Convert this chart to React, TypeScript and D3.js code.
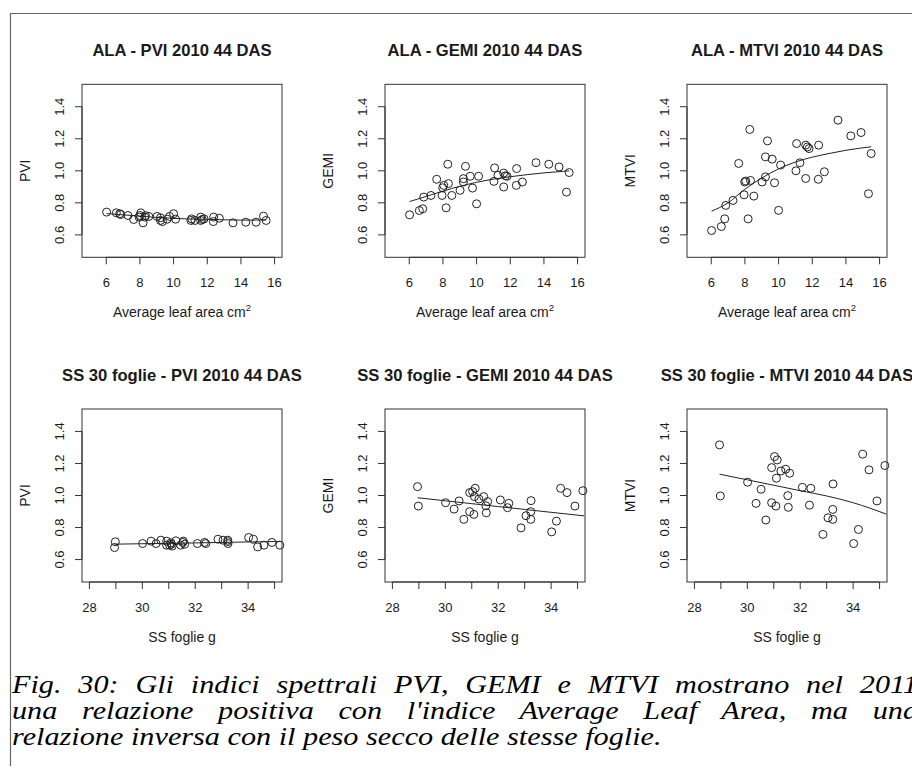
import React, { useEffect, useRef } from "react";
import * as d3 from "d3";

// ---------- DATA ----------
// Average leaf area (cm^2), 44 DAS 2010
const alaLeafArea = [6.02, 6.6, 6.8, 6.86, 7.29, 7.63, 7.95, 7.99, 8.05, 8.19, 8.29, 8.33, 8.53, 9.02, 9.22, 9.22, 9.34, 9.62, 9.76, 10.0, 10.12, 11.03, 11.07, 11.27, 11.61, 11.61, 11.71, 11.81, 12.36, 12.38, 12.72, 13.53, 14.29, 14.9, 15.34, 15.5];
const alaPVI = [0.742, 0.738, 0.732, 0.727, 0.721, 0.696, 0.711, 0.721, 0.738, 0.675, 0.711, 0.72, 0.715, 0.715, 0.707, 0.69, 0.683, 0.698, 0.715, 0.732, 0.698, 0.69, 0.7, 0.69, 0.711, 0.69, 0.696, 0.7, 0.683, 0.711, 0.704, 0.675, 0.679, 0.679, 0.717, 0.69];
const alaGEMI = [0.725, 0.752, 0.763, 0.836, 0.846, 0.947, 0.846, 0.894, 0.909, 0.769, 1.041, 0.92, 0.846, 0.878, 0.93, 0.951, 1.028, 0.966, 0.892, 0.794, 0.966, 0.934, 1.018, 0.972, 0.899, 0.986, 0.969, 0.966, 0.909, 1.014, 0.93, 1.051, 1.041, 1.024, 0.867, 0.989];
const alaMTVI = [0.627, 0.652, 0.7, 0.784, 0.815, 1.046, 0.85, 0.93, 0.936, 0.7, 1.258, 0.94, 0.842, 0.93, 1.087, 0.962, 1.187, 1.073, 0.925, 0.753, 1.036, 1.0, 1.17, 1.05, 0.952, 1.16, 1.149, 1.139, 0.947, 1.16, 0.994, 1.316, 1.218, 1.239, 0.857, 1.108];

// Dry weight of 30 leaves (g)
const ssFoglie = [28.95, 28.98, 30.01, 30.33, 30.52, 30.7, 30.92, 30.92, 31.03, 31.08, 31.1, 31.13, 31.27, 31.45, 31.53, 31.55, 31.6, 32.08, 32.35, 32.4, 32.86, 33.05, 33.23, 33.23, 33.24, 34.02, 34.2, 34.36, 34.6, 34.9, 35.2];
const ssPVI = [0.675, 0.711, 0.7, 0.715, 0.7, 0.721, 0.69, 0.715, 0.69, 0.704, 0.696, 0.684, 0.717, 0.69, 0.707, 0.715, 0.696, 0.7, 0.707, 0.7, 0.727, 0.721, 0.721, 0.712, 0.7, 0.738, 0.727, 0.679, 0.69, 0.707, 0.69];
const ssGEMI = [1.055, 0.934, 0.955, 0.915, 0.966, 0.851, 1.018, 0.899, 1.024, 0.882, 0.993, 1.045, 0.978, 0.993, 0.936, 0.892, 0.962, 0.972, 0.924, 0.951, 0.798, 0.874, 0.851, 0.899, 0.968, 0.773, 0.84, 1.045, 1.018, 0.934, 1.03];
const ssMTVI = [1.316, 0.997, 1.083, 0.951, 1.039, 0.847, 1.174, 0.955, 1.243, 0.934, 1.108, 1.222, 1.153, 1.164, 0.999, 0.926, 1.139, 1.051, 0.94, 1.045, 0.757, 0.861, 0.851, 0.913, 1.072, 0.7, 0.788, 1.258, 1.16, 0.966, 1.187];

// Smoothed fit curves
const fitAlaX = [6.02, 7, 8, 9, 10, 11, 12, 13, 14, 15.5];
const fitAlaPVI = [0.733, 0.725, 0.717, 0.709, 0.703, 0.699, 0.697, 0.694, 0.692, 0.693];
const fitAlaGEMI = [0.808, 0.84, 0.873, 0.903, 0.928, 0.948, 0.963, 0.976, 0.987, 1.0];
const fitAlaMTVI = [0.748, 0.8, 0.885, 0.955, 1.012, 1.055, 1.085, 1.108, 1.128, 1.15];
const fitSsX = [28.95, 30, 31, 32, 33, 34, 35.25];
const fitSsPVI = [0.696, 0.699, 0.701, 0.704, 0.707, 0.71, 0.713];
const fitSsGEMI = [0.986, 0.967, 0.949, 0.931, 0.913, 0.895, 0.873];
const fitSsMTVI = [1.133, 1.098, 1.064, 1.03, 0.997, 0.955, 0.884];

// Axes
const yTicks = [0.6, 0.8, 1.0, 1.2, 1.4];
const yDomain = [0.46, 1.54];
const alaDomain = [4.56, 16.44];
const alaTicks = [6, 8, 10, 12, 14, 16];
const ssDomain = [27.72, 35.28];
const ssTicks = [28, 29, 30, 31, 32, 33, 34, 35];
const ssTickLabels = ["28", "", "30", "", "32", "", "34", ""];

const panelTitles = [
  "ALA - PVI 2010 44 DAS",
  "ALA - GEMI 2010 44 DAS",
  "ALA - MTVI 2010 44 DAS",
  "SS 30 foglie - PVI 2010 44 DAS",
  "SS 30 foglie - GEMI 2010 44 DAS",
  "SS 30 foglie - MTVI 2010 44 DAS",
];
const yLabels = ["PVI", "GEMI", "MTVI", "PVI", "GEMI", "MTVI"];
const xLabelAla = "Average leaf area cm";
const xLabelSs = "SS foglie g";

const captionLines = [
  "Fig. 30: Gli indici spettrali PVI, GEMI e MTVI mostrano nel 2011",
  "una relazione positiva con l'indice Average Leaf Area, ma una",
  "relazione inversa con il peso secco delle stesse foglie.",
];

// ---------- LAYOUT ----------
const W = 912;
const H = 774;
const colX = [82, 385, 687];
const rowY = [84.3, 409];
const boxW = 200;
const boxH = 173;
const FONT = "'Liberation Sans', Arial, Helvetica, sans-serif";
const INK = "#1a1a1a";
const CAP_LEFT = 12;
const CAP_RIGHT = 918; // justified right edge (beyond the crop)
const CAP_LAST_END = 662; // end of the short last line
const CAP_FONT = 26;

type PanelDef = {
  title: string;
  ylab: string;
  xs: number[];
  ys: number[];
  fx: number[];
  fy: number[];
  domain: number[];
  ticks: number[];
  tickLabels: string[];
  xlab: string;
  sup: boolean;
  col: number;
  row: number;
};

const panels: PanelDef[] = [
  { title: panelTitles[0], ylab: yLabels[0], xs: alaLeafArea, ys: alaPVI, fx: fitAlaX, fy: fitAlaPVI, domain: alaDomain, ticks: alaTicks, tickLabels: alaTicks.map(String), xlab: xLabelAla, sup: true, col: 0, row: 0 },
  { title: panelTitles[1], ylab: yLabels[1], xs: alaLeafArea, ys: alaGEMI, fx: fitAlaX, fy: fitAlaGEMI, domain: alaDomain, ticks: alaTicks, tickLabels: alaTicks.map(String), xlab: xLabelAla, sup: true, col: 1, row: 0 },
  { title: panelTitles[2], ylab: yLabels[2], xs: alaLeafArea, ys: alaMTVI, fx: fitAlaX, fy: fitAlaMTVI, domain: alaDomain, ticks: alaTicks, tickLabels: alaTicks.map(String), xlab: xLabelAla, sup: true, col: 2, row: 0 },
  { title: panelTitles[3], ylab: yLabels[3], xs: ssFoglie, ys: ssPVI, fx: fitSsX, fy: fitSsPVI, domain: ssDomain, ticks: ssTicks, tickLabels: ssTickLabels, xlab: xLabelSs, sup: false, col: 0, row: 1 },
  { title: panelTitles[4], ylab: yLabels[4], xs: ssFoglie, ys: ssGEMI, fx: fitSsX, fy: fitSsGEMI, domain: ssDomain, ticks: ssTicks, tickLabels: ssTickLabels, xlab: xLabelSs, sup: false, col: 1, row: 1 },
  { title: panelTitles[5], ylab: yLabels[5], xs: ssFoglie, ys: ssMTVI, fx: fitSsX, fy: fitSsMTVI, domain: ssDomain, ticks: ssTicks, tickLabels: ssTickLabels, xlab: xLabelSs, sup: false, col: 2, row: 1 },
];

function Panel({ p }: { p: PanelDef }) {
  const x0 = colX[p.col];
  const y0 = rowY[p.row];
  const x = d3.scaleLinear().domain(p.domain).range([x0, x0 + boxW]);
  const y = d3.scaleLinear().domain(yDomain).range([y0 + boxH, y0]);
  const line = d3
    .line<number>()
    .x((_, i) => x(p.fx[i]))
    .y((d) => y(d))
    .curve(d3.curveMonotoneX);
  const bottom = y0 + boxH;
  const cx = x0 + boxW / 2;
  const cy = y0 + boxH / 2;
  const tickLen = 7;
  return (
    <g fontFamily={FONT} fill={INK}>
      <text x={cx} y={y0 - 28.5} textAnchor="middle" fontWeight="bold" fontSize={16.6}>
        {p.title}
      </text>
      <rect x={x0} y={y0} width={boxW} height={boxH} fill="none" stroke="#333" strokeWidth={1} />
      {/* y axis */}
      <line x1={x0} x2={x0} y1={y(yTicks[0])} y2={y(yTicks[yTicks.length - 1])} stroke="#333" />
      {yTicks.map((t) => (
        <g key={t}>
          <line x1={x0} x2={x0 - tickLen} y1={y(t)} y2={y(t)} stroke="#333" />
          <text transform={`translate(${x0 - 18},${y(t)}) rotate(-90)`} textAnchor="middle" fontSize={13}>
            {t.toFixed(1)}
          </text>
        </g>
      ))}
      <text transform={`translate(${x0 - 52},${cy}) rotate(-90)`} textAnchor="middle" fontSize={14}>
        {p.ylab}
      </text>
      {/* x axis */}
      <line x1={x(p.ticks[0])} x2={x(p.ticks[p.ticks.length - 1])} y1={bottom} y2={bottom} stroke="#333" />
      {p.ticks.map((t, i) => (
        <g key={t}>
          <line x1={x(t)} x2={x(t)} y1={bottom} y2={bottom + tickLen} stroke="#333" />
          {p.tickLabels[i] ? (
            <text x={x(t)} y={bottom + 30} textAnchor="middle" fontSize={13}>
              {p.tickLabels[i]}
            </text>
          ) : null}
        </g>
      ))}
      <text x={cx} y={bottom + 59.5} textAnchor="middle" fontSize={14}>
        {p.xlab}
        {p.sup ? (
          <tspan fontSize={9.5} dy={-6}>
            2
          </tspan>
        ) : null}
      </text>
      {/* fit */}
      <path d={line(p.fy) || ""} fill="none" stroke="#222" strokeWidth={1} />
      {/* points */}
      {p.xs.map((v, i) => (
        <circle key={i} cx={x(v)} cy={y(p.ys[i])} r={4} fill="none" stroke="#222" strokeWidth={1} />
      ))}
    </g>
  );
}

export default function App() {
  const capRef = useRef<SVGGElement>(null);
  useEffect(() => {
    if (!capRef.current) return;
    const texts = d3.select(capRef.current).selectAll<SVGTextElement, number>("text").nodes();
    texts.forEach((el) => {
      el.setAttribute("word-spacing", "0");
      el.setAttribute("transform", el.getAttribute("data-base") || "");
    });
    // horizontal scale so that the short last line ends where the reference's does
    const last = texts[texts.length - 1];
    const s = (CAP_LAST_END - CAP_LEFT) / last.getComputedTextLength();
    const target = (CAP_RIGHT - CAP_LEFT) / s;
    texts.forEach((el, i) => {
      el.setAttribute("transform", `${el.getAttribute("data-base")} scale(${s},1)`);
      if (i < texts.length - 1) {
        const natural = el.getComputedTextLength();
        const gaps = ((el.textContent || "").match(/ /g) || []).length;
        el.setAttribute("word-spacing", String((target - natural) / Math.max(1, gaps)));
      }
    });
  }, []);
  const capY = [693, 719, 744.5];
  return (
    <svg
      width={W}
      height={H}
      viewBox={`0 0 ${W} ${H}`}
      style={{ position: "absolute", left: 0, top: 0, background: "#fff" }}
    >
      <rect x={0} y={0} width={W} height={H} fill="#fff" />
      {/* document frame */}
      <path d={`M10.5,766 L10.5,13.5 L${W},13.5`} fill="none" stroke="#666" strokeWidth={1.2} />
      {panels.map((p, i) => (
        <Panel key={i} p={p} />
      ))}
      <g ref={capRef} fontFamily="'Liberation Serif', 'Times New Roman', serif" fontStyle="italic" fontSize={CAP_FONT} fill="#000">
        {captionLines.map((l, i) => (
          <text
            key={i}
            x={0}
            y={0}
            data-base={`translate(${CAP_LEFT},${capY[i]})`}
            transform={`translate(${CAP_LEFT},${capY[i]})`}
          >
            {l}
          </text>
        ))}
      </g>
    </svg>
  );
}
